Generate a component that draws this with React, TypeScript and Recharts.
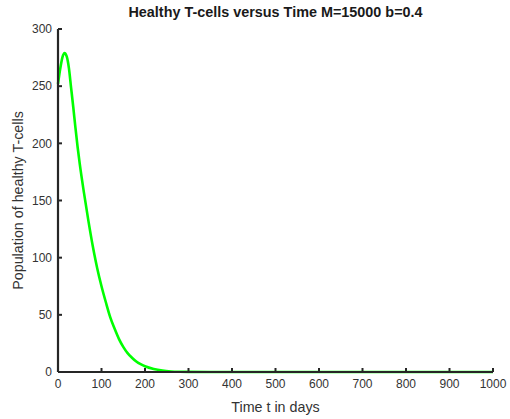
import { LineChart, Line, XAxis, YAxis, Label } from "recharts";

// Healthy T-cell population over time (days)
const days = [
  0, 5, 10, 15, 20, 25, 30, 35, 40, 45, 50, 60, 70, 80, 90, 100, 110, 120, 130, 140, 150,
  160, 170, 180, 190, 200, 220, 240, 260, 280, 300, 350, 400, 500, 600, 700, 800, 900, 1000,
];
const healthyCells = [
  252, 265, 275, 279, 276, 266, 249, 232, 214, 197, 182, 156, 132, 110, 91, 75, 61, 48, 38,
  29, 22, 16.5, 12.5, 9.2, 6.8, 5, 2.6, 1.2, 0.5, 0.2, 0.08, 0.01, 0, 0, 0, 0, 0, 0, 0,
];

const xTicks = [0, 100, 200, 300, 400, 500, 600, 700, 800, 900, 1000];
const yTicks = [0, 50, 100, 150, 200, 250, 300];

const data = days.map((t, i) => ({ t, cells: healthyCells[i] }));

const AXIS = "#262626";
const FONT = "'Liberation Sans', Arial, Helvetica, sans-serif";

export default function App() {
  return (
    <div style={{ position: "absolute", left: 0, top: 0, width: 510, height: 419, background: "#fff" }}>
      <div
        style={{
          position: "absolute",
          left: 0,
          top: 4,
          width: 551,
          textAlign: "center",
          fontFamily: FONT,
          fontWeight: "bold",
          fontSize: 14.4,
          color: "#1a1a1a",
        }}
      >
        Healthy T-cells versus Time M=15000 b=0.4
      </div>
      <LineChart width={510} height={419} data={data} margin={{ top: 29, right: 17, left: 0, bottom: 0 }}>
        <XAxis
          dataKey="t"
          type="number"
          domain={[0, 1000]}
          ticks={xTicks}
          interval={0}
          height={47}
          stroke={AXIS}
          axisLine={{ stroke: AXIS, strokeWidth: 2.2 }}
          tickLine={{ stroke: AXIS, strokeWidth: 2 }}
          tickSize={-4}
          tickMargin={11}
          tick={{ fill: "#333", fontSize: 12, fontFamily: FONT }}
        >
          <Label
            value="Time t in days"
            position="insideBottom"
            offset={7}
            style={{ fill: "#333", fontSize: 14.3, fontFamily: FONT }}
          />
        </XAxis>
        <YAxis
          type="number"
          domain={[0, 300]}
          ticks={yTicks}
          interval={0}
          width={58}
          stroke={AXIS}
          axisLine={{ stroke: AXIS, strokeWidth: 2.2 }}
          tickLine={{ stroke: AXIS, strokeWidth: 2 }}
          tickSize={-4}
          tickMargin={10}
          tick={{ fill: "#333", fontSize: 12, fontFamily: FONT }}
        >
          <Label
            value="Population of healthy T-cells"
            angle={-90}
            position="insideLeft"
            offset={18}
            style={{ textAnchor: "middle", fill: "#333", fontSize: 14.3, fontFamily: FONT }}
          />
        </YAxis>
        <Line
          type="monotone"
          dataKey="cells"
          stroke="#00ff00"
          strokeWidth={2.6}
          dot={false}
          isAnimationActive={false}
        />
      </LineChart>
    </div>
  );
}
